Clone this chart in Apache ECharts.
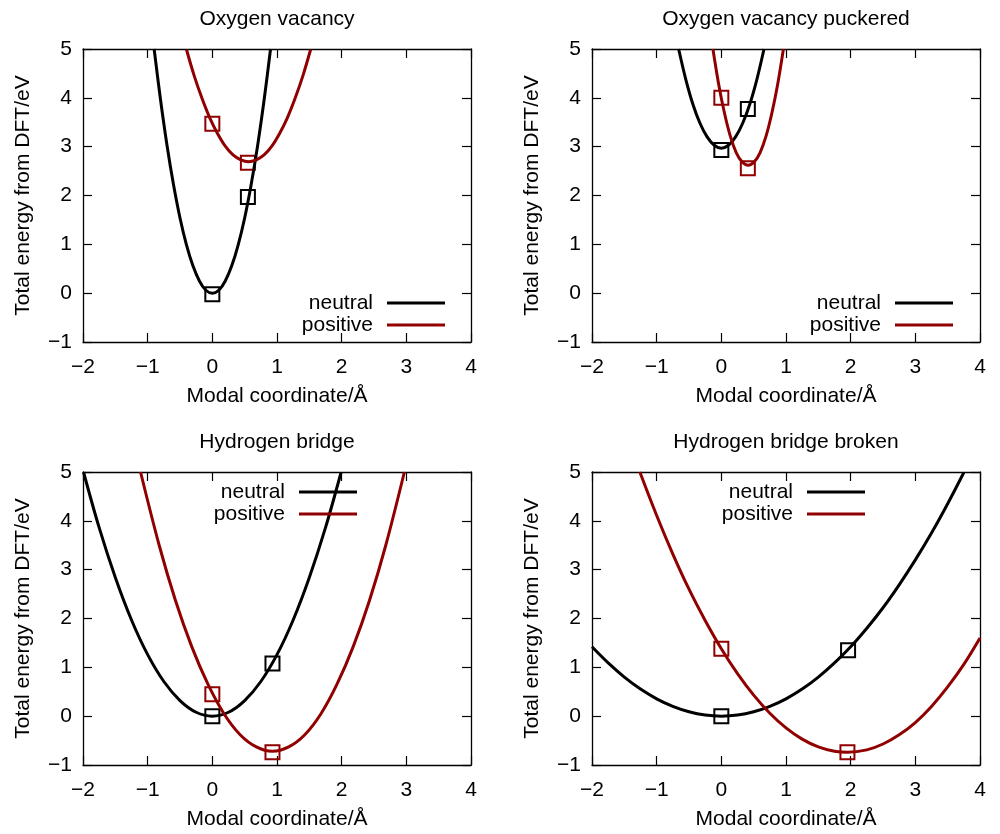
<!DOCTYPE html>
<html><head><meta charset="utf-8">
<script src="https://cdn.jsdelivr.net/npm/echarts@6/dist/echarts.min.js"></script>
<style>html,body{margin:0;padding:0;background:#fff}#c{width:1000px;height:834px}</style>
</head><body><div id="c"></div>
<script>
// ---- data ----
const panelTitles = ['Oxygen vacancy', 'Oxygen vacancy puckered', 'Hydrogen bridge', 'Hydrogen bridge broken'];
const seriesNames = ['neutral', 'positive'];
const xTickRange = [-2, 4];
const yTickRange = [-1, 5];
const xAxisTitle = 'Modal coordinate/\u00c5';
const yAxisTitle = 'Total energy from DFT/eV';

// Oxygen vacancy
const ovNeutralCurve = [[-0.9,5.0],[-0.8,3.95],[-0.7,3.02],[-0.6,2.22],[-0.5,1.54],[-0.4,0.99],[-0.3,0.56],[-0.2,0.25],[-0.1,0.06],[0,0],[0.1,0.06],[0.2,0.25],[0.3,0.56],[0.4,0.99],[0.5,1.54],[0.6,2.22],[0.7,3.02],[0.8,3.95],[0.9,5.0]];
const ovPositiveCurve = [[-0.40,4.99],[-0.28,4.45],[-0.16,3.99],[-0.04,3.59],[0.08,3.27],[0.20,3.01],[0.32,2.83],[0.44,2.73],[0.56,2.69],[0.68,2.73],[0.80,2.83],[0.92,3.01],[1.04,3.27],[1.16,3.59],[1.28,3.99],[1.40,4.45],[1.52,4.99]];
const ovNeutralPts = [[0,-0.02],[0.55,1.97]];
const ovPositivePts = [[0,3.47],[0.55,2.67]];

// Oxygen vacancy puckered
const ovpNeutralCurve = [[-0.66,5.0],[-0.55,4.38],[-0.44,3.87],[-0.33,3.48],[-0.22,3.20],[-0.11,3.03],[0,2.97],[0.11,3.03],[0.22,3.20],[0.33,3.48],[0.44,3.87],[0.55,4.38],[0.66,5.0]];
const ovpPositiveCurve = [[-0.13,5.0],[-0.04,4.27],[0.05,3.68],[0.14,3.21],[0.23,2.88],[0.32,2.69],[0.415,2.62],[0.51,2.69],[0.60,2.88],[0.69,3.21],[0.78,3.68],[0.87,4.27],[0.96,5.0]];
const ovpNeutralPts = [[0,2.93],[0.41,3.77]];
const ovpPositivePts = [[0,4.0],[0.41,2.56]];

// Hydrogen bridge
const hbNeutralCurve = [[-1.99,4.99],[-1.75,3.86],[-1.5,2.84],[-1.25,1.97],[-1,1.26],[-0.75,0.71],[-0.5,0.32],[-0.25,0.08],[0,0],[0.25,0.08],[0.5,0.32],[0.75,0.71],[1,1.26],[1.25,1.97],[1.5,2.84],[1.75,3.86],[1.99,4.99]];
const hbPositiveCurve = [[-1.11,5.0],[-0.82,3.49],[-0.57,2.37],[-0.32,1.43],[-0.07,0.66],[0.18,0.05],[0.43,-0.38],[0.68,-0.63],[0.93,-0.72],[1.18,-0.63],[1.43,-0.38],[1.68,0.05],[1.93,0.66],[2.18,1.43],[2.43,2.37],[2.68,3.49],[2.97,5.0]];
const hbNeutralPts = [[0,0],[0.93,1.08]];
const hbPositivePts = [[0,0.45],[0.93,-0.74]];

// Hydrogen bridge broken
const hbbNeutralCurve = [[-2,1.42],[-1.75,1.09],[-1.5,0.80],[-1.25,0.555],[-1,0.355],[-0.75,0.20],[-0.5,0.089],[-0.25,0.022],[0,0],[0.25,0.022],[0.5,0.089],[0.75,0.20],[1,0.355],[1.25,0.555],[1.5,0.80],[1.75,1.09],[2,1.42],[2.25,1.80],[2.5,2.22],[2.75,2.69],[3,3.20],[3.25,3.75],[3.5,4.35],[3.75,4.99]];
const hbbPositiveCurve = [[-1.26,5.0],[-1.0,4.11],[-0.75,3.32],[-0.5,2.60],[-0.25,1.96],[0,1.38],[0.25,0.87],[0.5,0.43],[0.75,0.06],[1.0,-0.24],[1.25,-0.47],[1.5,-0.63],[1.75,-0.72],[1.95,-0.74],[2.25,-0.69],[2.5,-0.57],[2.75,-0.38],[3.0,-0.13],[3.25,0.20],[3.5,0.60],[3.75,1.06],[4.0,1.60]];
const hbbNeutralPts = [[0,0],[1.96,1.35]];
const hbbPositivePts = [[0,1.38],[1.95,-0.74]];

const curves = [
  [ovNeutralCurve, ovPositiveCurve],
  [ovpNeutralCurve, ovpPositiveCurve],
  [hbNeutralCurve, hbPositiveCurve],
  [hbbNeutralCurve, hbbPositiveCurve]
];
const points = [
  [ovNeutralPts, ovPositivePts],
  [ovpNeutralPts, ovpPositivePts],
  [hbNeutralPts, hbPositivePts],
  [hbbNeutralPts, hbbPositivePts]
];

// ---- layout / style ----
const FONT = "'Liberation Sans', Arial, Helvetica, sans-serif";
const FS = 21;
const colors = ['#000000', '#900000'];
const layout = [
  {left: 83, top: 49, legendRight: 555, legendTop: 292.5},
  {left: 592, top: 49, legendRight: 47, legendTop: 292.5},
  {left: 83, top: 472, legendRight: 643, legendTop: 481.5},
  {left: 592, top: 472, legendRight: 135, legendTop: 481.5}
];
const W = 388, H = 293;
const fmt = v => String(v).replace('-', '\u2212');

const grid = [], xAxis = [], yAxis = [], series = [], title = [], legend = [];
layout.forEach((p, i) => {
  grid.push({left: p.left, top: p.top, width: W, height: H, containLabel: false});
  title.push({
    text: panelTitles[i], left: p.left + W / 2, top: p.top - 40.5, textAlign: 'center', padding: 0,
    textStyle: {fontFamily: FONT, fontSize: FS, lineHeight: 21, fontWeight: 'normal', color: '#000'}
  });
  legend.push({
    data: seriesNames.map(n => ({name: n, icon: 'rect'})), orient: 'vertical',
    right: p.legendRight, top: p.legendTop, align: 'right',
    padding: 0, itemGap: 1, itemWidth: 58, itemHeight: 3, selectedMode: false,
    textStyle: {fontFamily: FONT, fontSize: FS, lineHeight: 20, color: '#000', padding: [0, 9, 0, 0]}
  });
  const common = {
    gridIndex: i, type: 'value', splitLine: {show: false},
    axisLine: {show: true, onZero: false, lineStyle: {color: '#000', width: 1.3}},
    axisTick: {show: true, inside: true, length: 9, lineStyle: {color: '#000', width: 1.2}}
  };
  xAxis.push(Object.assign({}, common, {
    position: 'bottom', min: xTickRange[0], max: xTickRange[1], interval: 1,
    name: xAxisTitle, nameLocation: 'middle', nameGap: 44,
    nameTextStyle: {fontFamily: FONT, fontSize: FS, color: '#000'},
    axisLabel: {margin: 15, fontFamily: FONT, fontSize: FS, color: '#000', formatter: fmt}
  }));
  xAxis.push(Object.assign({}, common, {
    position: 'top', min: xTickRange[0], max: xTickRange[1], interval: 1, axisLabel: {show: false}
  }));
  yAxis.push(Object.assign({}, common, {
    position: 'left', min: yTickRange[0], max: yTickRange[1], interval: 1,
    name: yAxisTitle, nameLocation: 'middle', nameGap: 49,
    nameTextStyle: {fontFamily: FONT, fontSize: FS, color: '#000'},
    axisLabel: {margin: 11, fontFamily: FONT, fontSize: FS, color: '#000', formatter: fmt}
  }));
  yAxis.push(Object.assign({}, common, {
    position: 'right', min: yTickRange[0], max: yTickRange[1], interval: 1, axisLabel: {show: false}
  }));
  seriesNames.forEach((nm, k) => {
    series.push({
      name: nm, type: 'line', xAxisIndex: 2 * i, yAxisIndex: 2 * i, data: curves[i][k],
      smooth: 0.35, symbol: 'none', clip: true, silent: true, z: 3,
      lineStyle: {color: colors[k], width: 3}, itemStyle: {color: colors[k]}
    });
    series.push({
      name: nm + ' DFT', type: 'scatter', xAxisIndex: 2 * i, yAxisIndex: 2 * i, data: points[i][k],
      symbol: 'rect', symbolSize: 14, silent: true, z: 2,
      itemStyle: {color: 'rgba(0,0,0,0)', borderColor: colors[k], borderWidth: 2, opacity: 1}
    });
  });
});

const chart = echarts.init(document.getElementById('c'), null, {renderer: 'canvas'});
chart.setOption({
  backgroundColor: '#fff', animation: false, textStyle: {fontFamily: FONT},
  title, legend, grid, xAxis, yAxis, series, tooltip: {show: false}
});
</script></body></html>
